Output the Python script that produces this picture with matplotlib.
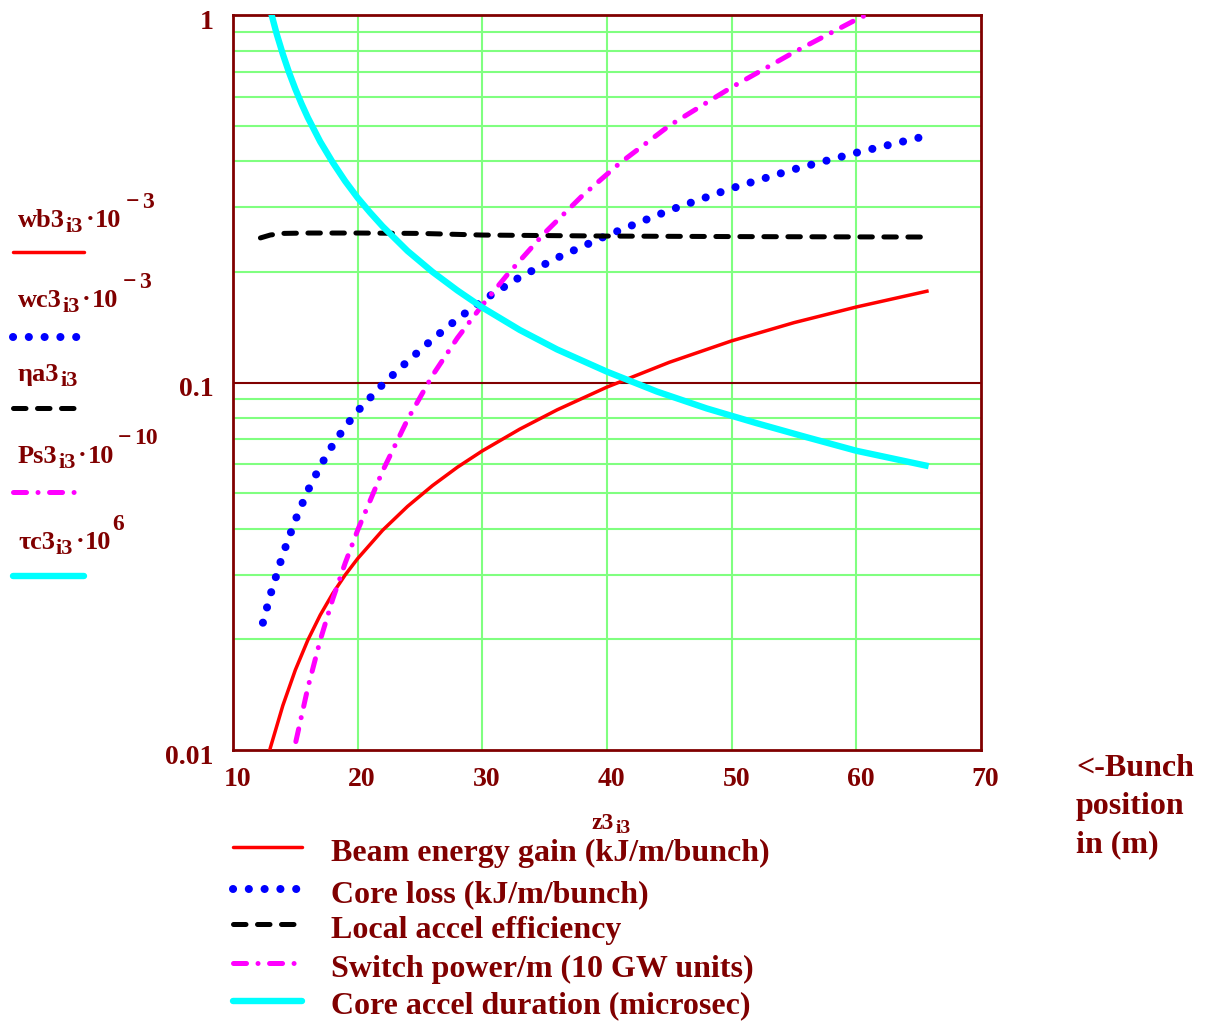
import numpy as np
import matplotlib
matplotlib.use('Agg')
import matplotlib.pyplot as plt
from matplotlib.lines import Line2D
from matplotlib.transforms import ScaledTranslation

# Data
z_wb = [12.5, 12.95, 13, 14, 15, 16, 17, 18, 19, 20, 22, 24, 26, 28, 30, 33, 36, 40,
        45, 50, 55, 60, 65.8]
wb = [0.00856, 0.0100, 0.01015, 0.01322, 0.01651, 0.0199, 0.0233, 0.02666, 0.02995,
      0.03318, 0.03962, 0.04601, 0.05241, 0.05881, 0.06515, 0.07465, 0.08426, 0.09718,
      0.1135, 0.1298, 0.1455, 0.1605, 0.1776]

z_wc = [12.4, 13, 14, 15, 16, 17, 18, 19, 20, 22, 24, 26, 28, 30, 33, 36, 40, 45, 50,
        55, 60, 65]
wc = [0.0222, 0.02645, 0.03408, 0.04222, 0.05077, 0.05923, 0.06761, 0.07577, 0.08365,
      0.09874, 0.1142, 0.1311, 0.1489, 0.1671, 0.1935, 0.2184, 0.2513, 0.2941, 0.3377,
      0.3803, 0.4219, 0.4634]

z_eta = [12.2, 13.0, 14.0, 16.0, 20.0, 25.0, 30.0, 40.0, 50.0, 60.0, 65.8]
eta = [0.2474, 0.252, 0.2545, 0.2551, 0.2551, 0.2545, 0.2519, 0.2503, 0.2495, 0.249, 0.2488]

z_ps = [14.0, 14.9, 15, 16, 17, 18, 19, 20, 22, 24, 26, 28, 30, 32, 35, 38, 41, 45,
        50, 55, 60, 62]
ps = [0.00676, 0.0100, 0.01039, 0.01476, 0.01991, 0.02574, 0.03226, 0.03964, 0.05743,
      0.07927, 0.1045, 0.1322, 0.1624, 0.1964, 0.2553, 0.3218, 0.3946, 0.500, 0.636,
      0.792, 0.972, 1.045]

z_tau = [12.6, 13.1, 13.5, 14, 14.5, 15, 15.5, 16, 17, 18, 19, 20, 21, 22, 24, 26, 28,
         30, 33, 36, 40, 44, 48, 52, 56, 60, 65.8]
tau = [1.18, 1.0, 0.889, 0.782, 0.697, 0.629, 0.573, 0.526, 0.452, 0.397, 0.353, 0.318,
       0.290, 0.266, 0.228, 0.200, 0.178, 0.160, 0.139, 0.123, 0.107, 0.0945, 0.085,
       0.0775, 0.0710, 0.0652, 0.0592]

xticks = [10, 20, 30, 40, 50, 60, 70]
yticks = [0.01, 0.1, 1]
ytick_labels = ['0.01', '0.1', '1']

# left legend labels: (name, subscript, exponent, negative exponent)
left_labels = [('wb3', 'i3', '3', True), ('wc3', 'i3', '3', True), ('\u03b7a3', 'i3', None, False),
               ('Ps3', 'i3', '10', True), ('\u03c4c3', 'i3', '6', False)]
bottom_labels = ['Beam energy gain (kJ/m/bunch)', 'Core loss (kJ/m/bunch)',
                 'Local accel efficiency', 'Switch power/m (10 GW units)',
                 'Core accel duration (microsec)']

DR = '#800000'
GRID = '#80FF80'

plt.rcParams['font.family'] = ['Liberation Serif', 'DejaVu Serif']
plt.rcParams['font.weight'] = 'bold'

W, H = 1211, 1021
fig = plt.figure(figsize=(W / 100, H / 100), dpi=100)
ax = fig.add_axes([233 / W, 1 - 750 / H, (981 - 233) / W, (750 - 15) / H])

# line styles
styles = [
    dict(color='#FF0000', lw=2.5, ls='-'),
    dict(color='#0000FF', lw=5.8, ls=(0, (0.01, 1.95)), dash_capstyle='round'),
    dict(color='black', lw=3.6, ls=(0, (2.5, 2.3)), dash_capstyle='round'),
    dict(color='#FF00FF', lw=3.6, ls=(0, (2.6, 2.3, 0.01, 2.3)), dash_capstyle='round'),
    dict(color='#00FFFF', lw=4.6, ls='-'),
]

# grid
for v in [20, 30, 40, 50, 60]:
    ax.axvline(v, color=GRID, lw=1.5, zorder=1)
for dec in [0.01, 0.1]:
    for m in range(2, 10):
        ax.axhline(dec * m, color=GRID, lw=1.5, zorder=1)
ax.axhline(0.1, color=DR, lw=1.5, zorder=1)

series = [(z_wb, wb), (z_wc, wc), (z_eta, eta), (z_ps, ps), (z_tau, tau)]
for (zz, s), st in zip(series, styles):
    ax.plot(zz, s, zorder=3, solid_capstyle='butt', solid_joinstyle='round', **st)

ax.set_yscale('log')
ax.set_xlim(10, 70)
ax.set_ylim(0.01, 1)
ax.set_xticks(xticks)
ax.set_xticklabels([str(t) for t in xticks])
ax.set_yticks(yticks)
ax.set_yticklabels(ytick_labels)
ax.minorticks_off()
ax.tick_params(length=0, labelsize=20, labelcolor=DR)
ax.tick_params(axis='x', pad=12)
ax.tick_params(axis='y', pad=14)
for lab in ax.get_xticklabels():
    lab.set_fontweight('bold')
    lab.set_transform(lab.get_transform() + ScaledTranslation(0.045, 0, fig.dpi_scale_trans))
for lab in ax.get_yticklabels():
    lab.set_fontweight('bold')
    lab.set_transform(lab.get_transform() + ScaledTranslation(0, -0.04, fig.dpi_scale_trans))
for sp in ax.spines.values():
    sp.set_color(DR)
    sp.set_linewidth(2)


def fx(px):
    return px / W


def fy(py):
    return 1 - py / H


renderer = fig.canvas.get_renderer()


def rich(x, y, parts):
    # parts: (text, size, dy in px, gap in px before)
    cx = x
    for txt, size, dy, gap in parts:
        t = fig.text(fx(cx + gap), fy(y + dy), txt, fontsize=size, color=DR,
                     ha='left', va='baseline', fontweight='bold')
        cx = t.get_window_extent(renderer=renderer).x1


def legend_line(x0, x1, y, st):
    ln = Line2D([fx(x0), fx(x1)], [fy(y), fy(y)], transform=fig.transFigure,
                solid_capstyle='round', **st)
    fig.add_artist(ln)


# left legend
label_base = [227, 307, 381, 463, 549]
line_y = [252, 337, 408, 492, 576]
for (name, sub, exp, neg), by, lny, st in zip(left_labels, label_base, line_y, styles):
    parts = [(name, 19, 0, 0), (sub, 16, 5, 1)]
    if exp is not None:
        parts += [('\u00b7', 19, -1, 2), ('10', 19, 0, 1)]
        if neg:
            parts += [('\u2212', 17, -19, 4), (exp, 17, -19, 3)]
        else:
            parts += [(exp, 17, -19, 1)]
    rich(18, by, parts)
    legend_line(13, 84, lny, st)

# x label
rich(592, 829, [('z3', 17, 0, 0), ('i3', 14, 4, 1)])

# bottom legend
bl_base = [861, 902, 938, 977, 1013]
bl_line = [847, 889, 924, 963, 1001]
for lab, y, ly, st in zip(bottom_labels, bl_base, bl_line, styles):
    legend_line(233, 302, ly, st)
    fig.text(fx(331), fy(y), lab, fontsize=23, color=DR, va='baseline', ha='left',
             fontweight='bold')

# right annotation
for i, line in enumerate(['<-Bunch', 'position', 'in (m)']):
    fig.text(fx(1076), fy(776 + 38 * i), line, fontsize=23, color=DR,
             va='baseline', ha='left', fontweight='bold')

fig.savefig('out.png', dpi=100)
